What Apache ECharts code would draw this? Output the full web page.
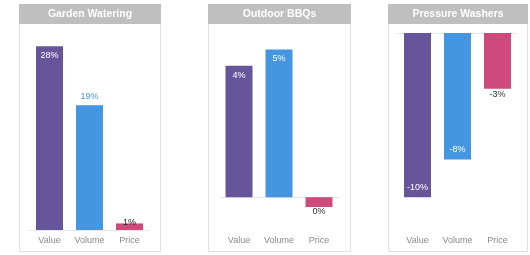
<!DOCTYPE html>
<html><head><meta charset="utf-8">
<script src="https://cdn.jsdelivr.net/npm/echarts@6/dist/echarts.min.js"></script>
<style>html,body{margin:0;padding:0;background:#fff}#c{width:530px;height:255px}</style>
</head><body><div id="c"></div>
<script>
const categories = ['Value', 'Volume', 'Price'];
const panelTitles = ['Garden Watering', 'Outdoor BBQs', 'Pressure Washers'];
const gardenWatering = [28, 19, 1];
const outdoorBBQs = [4.0, 4.5, -0.3];
const pressureWashers = [-10, -7.7, -3.4];
const seriesValues = [gardenWatering, outdoorBBQs, pressureWashers];
const axisRanges = [[0, 30], [-1, 5], [-12, 0]];

const barColors = ['#67559b', '#4596e0', '#cf4a7c'];
const panels = [
  {x: 19, w: 141},
  {x: 208, w: 142},
  {x: 388, w: 139}
];
const panelTop = 4, panelBottom = 251, titleH = 20;
const gridTop = 33, gridBottomY = 230, gridW = 120;
const font = '"Liberation Sans", Arial, Helvetica, sans-serif';

// label styles per panel / bar
const labelStyles = [
  [{position: 'insideTop', color: '#fff'}, {position: 'top', color: '#4596e0', distance: 4}, {position: 'top', color: '#222', distance: -4}],
  [{position: 'insideTop', color: '#fff'}, {position: 'insideTop', color: '#fff'}, {position: 'bottom', color: '#333', distance: 0}],
  [{position: 'insideBottom', color: '#fff'}, {position: 'insideBottom', color: '#fff'}, {position: 'bottom', color: '#333', distance: 1}]
];

const grids = [], xAxes = [], yAxes = [], series = [], graphics = [];
panels.forEach((p, i) => {
  const gl = p.x + (p.w - gridW) / 2;
  grids.push({left: gl, top: gridTop, width: gridW, height: gridBottomY - gridTop});
  xAxes.push({
    type: 'category', gridIndex: i, data: categories, position: 'bottom',
    axisLine: {show: false, onZero: false}, axisTick: {show: false},
    axisLabel: {color: '#8a8a8a', fontSize: 9, fontFamily: font, margin: 6}
  });
  yAxes.push({
    type: 'value', gridIndex: i, min: axisRanges[i][0], max: axisRanges[i][1],
    show: false, splitLine: {show: false}
  });
  series.push({
    type: 'bar', xAxisIndex: i, yAxisIndex: i, barWidth: 27,
    data: seriesValues[i].map((v, j) => ({
      value: v,
      itemStyle: {color: barColors[j]},
      label: Object.assign({show: true, fontSize: 9, fontFamily: font,
        formatter: (d) => Math.round(d.value) + '%'}, labelStyles[i][j])
    })),
    markLine: {
      silent: true, symbol: 'none', label: {show: false},
      lineStyle: {color: '#e6e6e6', width: 1, type: 'solid'},
      data: [{yAxis: 0}], z: 1
    }
  });
  graphics.push({
    type: 'rect', z: -10,
    shape: {x: p.x + 0.5, y: panelTop + 0.5, width: p.w, height: panelBottom - panelTop},
    style: {fill: '#fff', stroke: '#e2e2e2', lineWidth: 1}
  });
  graphics.push({
    type: 'rect', z: -9,
    shape: {x: p.x, y: panelTop, width: p.w + 1, height: titleH},
    style: {fill: '#bfbfbf'}
  });
  graphics.push({
    type: 'text', z: -8,
    x: p.x + p.w / 2 + 0.5, y: panelTop + titleH / 2,
    style: {text: panelTitles[i], fill: '#fff', font: 'bold 10.5px ' + font,
      textAlign: 'center', textVerticalAlign: 'middle'}
  });
});

const chart = echarts.init(document.getElementById('c'), null, {renderer: 'canvas'});
chart.setOption({
  animation: false,
  grid: grids, xAxis: xAxes, yAxis: yAxes, series: series,
  graphic: graphics
});
</script></body></html>
